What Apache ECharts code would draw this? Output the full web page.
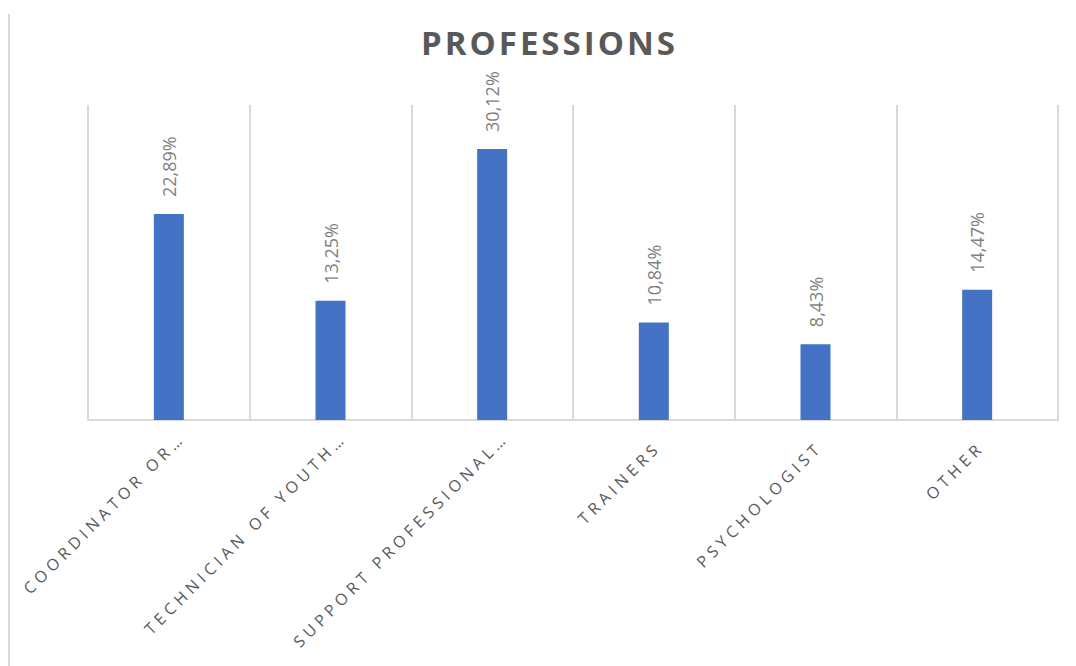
<!DOCTYPE html>
<html>
<head>
<meta charset="utf-8">
<script src="https://cdn.jsdelivr.net/npm/echarts@6/dist/echarts.min.js"></script>
<style>
html,body{margin:0;padding:0;background:#fff;}
#chart{width:1076px;height:666px;}
</style>
</head>
<body>
<div id="chart"></div>
<script>
const titleText = 'PROFESSIONS';
const categories = ['COORDINATOR OR…', 'TECHNICIAN OF YOUTH…', 'SUPPORT PROFESSIONAL…', 'TRAINERS', 'PSYCHOLOGIST', 'OTHER'];
const values = [22.89, 13.25, 30.12, 10.84, 8.43, 14.47];
const yMin = 0;
const yMax = 35;

const labelFont = {fontFamily: 'Open Sans', fontSize: 16, color: '#595959', lineHeight: 37};

const chart = echarts.init(document.getElementById('chart'), null, {renderer: 'svg'});
chart.setOption({
  animation: false,
  backgroundColor: '#ffffff',
  title: {
    text: titleText,
    left: 416,
    top: 21,
    textStyle: {fontFamily: 'Open Sans', fontWeight: 'bold', fontSize: 33, color: '#595959'}
  },
  graphic: [{
    type: 'line',
    shape: {x1: 9, y1: 14, x2: 9, y2: 666},
    style: {stroke: '#d9d9d9', lineWidth: 2}
  }],
  grid: {left: 88, right: 18, top: 105, bottom: 246, containLabel: false},
  xAxis: {
    type: 'category',
    data: categories,
    boundaryGap: true,
    axisLine: {show: true, lineStyle: {color: '#d9d9d9', width: 2}},
    axisTick: {show: false},
    splitLine: {show: true, lineStyle: {color: '#d9d9d9', width: 2}},
    axisLabel: Object.assign({
      interval: 0,
      rotate: 45,
      margin: 2,
      align: 'right',
      verticalAlign: 'top',
      formatter: v => v.endsWith('…') ? '{t|' + v + '}' : '{p|' + v + '}',
      rich: {
        t: Object.assign({}, labelFont),
        p: Object.assign({padding: [0, 13, 0, 0]}, labelFont)
      }
    }, labelFont)
  },
  yAxis: {
    type: 'value',
    min: yMin,
    max: yMax,
    show: false,
    splitLine: {show: false}
  },
  series: [{
    type: 'bar',
    data: values,
    barWidth: 30,
    itemStyle: {color: '#4472C4'},
    label: {
      show: true,
      position: 'top',
      rotate: 90,
      align: 'left',
      verticalAlign: 'middle',
      distance: 17,
      fontFamily: 'Open Sans',
      fontSize: 18,
      color: '#7f7f7f',
      formatter: p => p.value.toFixed(2).replace('.', ',') + '%'
    }
  }]
});

function spaceLetters() {
  const texts = chart.getDom().querySelectorAll('text');
  texts.forEach(t => {
    const s = t.textContent;
    if (categories.indexOf(s) >= 0) {
      t.style.letterSpacing = '4.5px';
    } else if (s === titleText) {
      t.style.letterSpacing = '3px';
    }
  });
}
spaceLetters();
chart.on('finished', spaceLetters);
</script>
</body>
</html>
